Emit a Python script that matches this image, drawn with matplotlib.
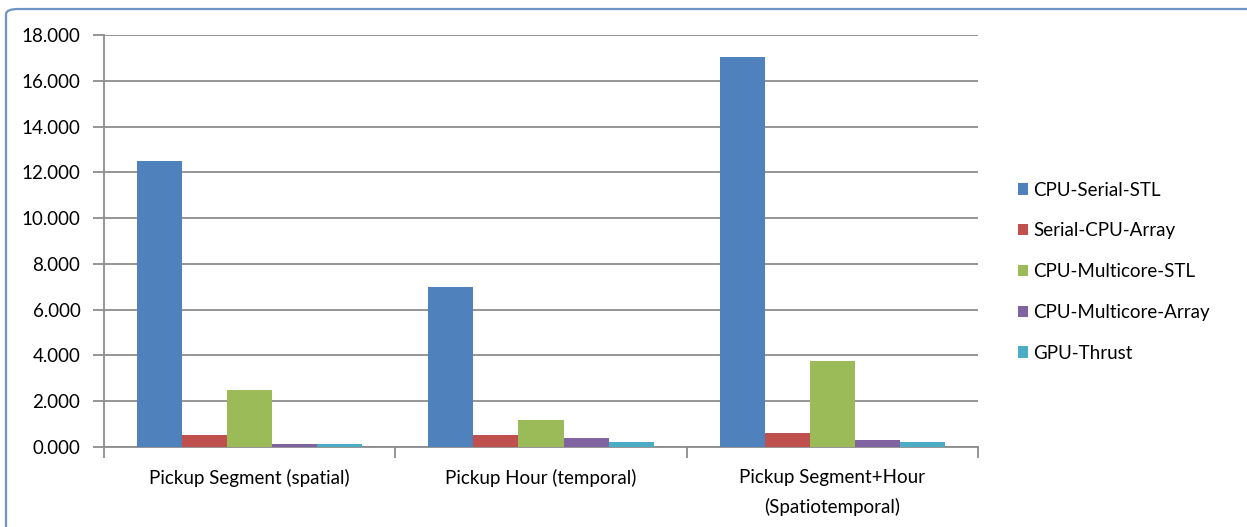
import matplotlib
matplotlib.use("Agg")
import matplotlib.pyplot as plt
import numpy as np
from matplotlib.patches import FancyBboxPatch

categories = ["Pickup Segment (spatial)", "Pickup Hour (temporal)", "Pickup Segment+Hour\n(Spatiotemporal)"]
series_names = ["CPU-Serial-STL", "Serial-CPU-Array", "CPU-Multicore-STL", "CPU-Multicore-Array", "GPU-Thrust"]
cpu_serial_stl = [12.50, 7.00, 17.05]
serial_cpu_array = [0.51, 0.51, 0.61]
cpu_multicore_stl = [2.50, 1.18, 3.76]
cpu_multicore_array = [0.14, 0.38, 0.29]
gpu_thrust = [0.14, 0.23, 0.23]
yticks = [0, 2, 4, 6, 8, 10, 12, 14, 16, 18]
ytick_labels = ["0.000", "2.000", "4.000", "6.000", "8.000", "10.000", "12.000", "14.000", "16.000", "18.000"]

colors = ["#4F81BD", "#C0504D", "#9BBB59", "#8064A2", "#4BACC6"]
series = [cpu_serial_stl, serial_cpu_array, cpu_multicore_stl, cpu_multicore_array, gpu_thrust]

plt.rcParams['font.family'] = ['Lato', 'DejaVu Sans']
FS = 13.5

fig = plt.figure(figsize=(12.47, 5.27), dpi=100)
ax = fig.add_axes([104/1247, 1-447/527, (978-104)/1247, 412/527])

# outer border
border = FancyBboxPatch((6/1247, -0.05), 1.1, 1-9/527+0.05, boxstyle="round,pad=0,rounding_size=0.01",
                        transform=fig.transFigure, facecolor="white", edgecolor="#6E93C6", linewidth=1.6,
                        zorder=-10)
fig.patches.append(border)

x = np.arange(len(categories))
bw = 0.1545
for i, (vals, c, name) in enumerate(zip(series, colors, series_names)):
    ax.bar(x + (i - 2) * bw, vals, width=bw, color=c, label=name, zorder=3)

ax.set_xlim(-0.5, 2.5)
ax.set_ylim(0, 18)
ax.set_yticks(yticks)
ax.set_yticklabels(ytick_labels, fontsize=FS)
ax.yaxis.grid(True, color="#8C8C8C", linewidth=1.3, zorder=0)
ax.set_axisbelow(True)

ax.set_xticks([-0.5, 0.5, 1.5, 2.5])
ax.set_xticklabels([])
ax.set_xticks(x, minor=True)
ax.set_xticklabels(categories, minor=True, fontsize=FS, linespacing=1.75)
ax.tick_params(axis='x', which='minor', length=0, pad=16)
ax.tick_params(axis='x', which='major', length=8, color="#8C8C8C", width=1.3)
ax.tick_params(axis='y', length=8, color="#8C8C8C", width=1.3, pad=9)

for s in ["top", "right"]:
    ax.spines[s].set_visible(False)
for s in ["left", "bottom"]:
    ax.spines[s].set_color("#8C8C8C")
    ax.spines[s].set_linewidth(1.3)

leg = fig.legend(loc="upper left", bbox_to_anchor=(1010/1247, 1-174/527), frameon=False,
                 fontsize=FS, handlelength=0.55, handleheight=0.55, handletextpad=0.3,
                 labelspacing=1.27, borderaxespad=0)

fig.savefig("out.png", dpi=100)
